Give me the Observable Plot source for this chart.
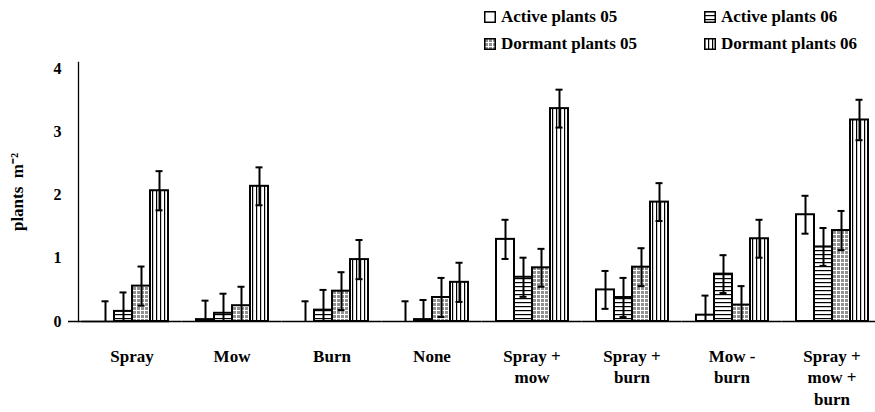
<!DOCTYPE html>
<html><head><meta charset="utf-8">
<script src="https://cdn.jsdelivr.net/npm/d3@7"></script>
<script src="https://cdn.jsdelivr.net/npm/@observablehq/plot@0.6"></script>
<style>
html,body{margin:0;padding:0;background:#fff;overflow:hidden;font-family:"Liberation Serif","Times New Roman",serif;}
#legend{position:relative;height:58px;width:875px;}
.item{position:absolute;font-weight:bold;font-size:17px;display:flex;align-items:center;white-space:nowrap;color:#000;line-height:1}
.item svg{margin-right:5px}
</style></head><body>
<svg width="0" height="0" style="position:absolute">
<defs>
<pattern id="p-white" width="4" height="4" patternUnits="userSpaceOnUse"><rect width="4" height="4" fill="#fff"/></pattern>
<pattern id="p-h" width="6" height="4" patternUnits="userSpaceOnUse"><rect width="6" height="4" fill="#fff"/><rect x="0" y="0" width="6" height="1.2" fill="#000"/></pattern>
<pattern id="p-grid" width="4" height="4" patternUnits="userSpaceOnUse"><rect width="4" height="4" fill="#909090"/><rect x="0" y="0" width="4" height="1" fill="#fff"/><rect x="0" y="0" width="1" height="4" fill="#fff"/></pattern>
<pattern id="p-v" width="4" height="6" patternUnits="userSpaceOnUse"><rect width="4" height="6" fill="#fff"/><rect x="0" y="0" width="1.2" height="6" fill="#000"/></pattern>
</defs>
</svg>
<div id="legend"></div>
<div id="chart"></div>
<script>
// ---- data ----
const groups = ["Spray", "Mow", "Burn", "None", "Spray +\nmow", "Spray +\nburn", "Mow -\nburn", "Spray +\nmow +\nburn"];
const series = ["Active plants 05", "Active plants 06", "Dormant plants 05", "Dormant plants 06"];
const active05  = [0.00, 0.03, 0.00, 0.00, 1.30, 0.50, 0.10, 1.69];
const active06  = [0.16, 0.13, 0.18, 0.03, 0.70, 0.38, 0.75, 1.18];
const dormant05 = [0.56, 0.25, 0.48, 0.38, 0.85, 0.86, 0.26, 1.44];
const dormant06 = [2.07, 2.14, 0.98, 0.62, 3.37, 1.89, 1.31, 3.19];
const active05Err  = [0.32, 0.30, 0.32, 0.32, 0.31, 0.30, 0.31, 0.30];
const active06Err  = [0.30, 0.31, 0.32, 0.31, 0.31, 0.31, 0.30, 0.30];
const dormant05Err = [0.31, 0.30, 0.30, 0.31, 0.30, 0.30, 0.30, 0.31];
const dormant06Err = [0.31, 0.30, 0.31, 0.31, 0.30, 0.30, 0.30, 0.32];
const yTicks = [0, 1, 2, 3, 4];
const yLabel = "plants  m\u207B\u00B2";

const fills = ["url(#p-white)", "url(#p-h)", "url(#p-grid)", "url(#p-v)"];
const valueSets = [active05, active06, dormant05, dormant06];
const errSets = [active05Err, active06Err, dormant05Err, dormant06Err];

const rows = [];
groups.forEach((g, i) => series.forEach((s, j) => {
  rows.push({group: g, series: s, value: valueSets[j][i], err: errSets[j][i]});
}));
const lowCaps = rows.filter(d => d.value - d.err > 0.02);

// ---- legend ----
const legend = document.getElementById("legend");
const legendPos = [[484, 8], [704, 8], [484, 35], [704, 35]];
series.forEach((s, j) => {
  const div = document.createElement("div");
  div.className = "item";
  div.style.left = legendPos[j][0] + "px";
  div.style.top = legendPos[j][1] + "px";
  div.innerHTML = `<svg width="12" height="12"><rect x="0.75" y="0.75" width="10.5" height="10.5" fill="${fills[j]}" stroke="#000" stroke-width="1.5"/></svg><span>${s}</span>`;
  legend.appendChild(div);
});

// ---- chart ----
const chart = Plot.plot({
  width: 875,
  height: 354,
  marginLeft: 94,
  marginRight: 6,
  marginTop: 4,
  marginBottom: 91,
  style: {fontFamily: "'Liberation Serif','Times New Roman',serif", background: "#fff", color: "#000"},
  fx: {domain: groups, paddingInner: 0.25, paddingOuter: 0},
  x: {domain: series, padding: 0, axis: null},
  y: {domain: [0, 4.1]},
  color: {domain: series, range: fills},
  marks: [
    Plot.barY(rows, {fx: "group", x: "series", y: "value", fill: "series", stroke: "#000", strokeWidth: 2}),
    Plot.ruleX(rows, {fx: "group", x: "series", y1: d => Math.max(0, d.value - d.err), y2: d => d.value + d.err, stroke: "#000", strokeWidth: 2}),
    Plot.tickY(rows, {fx: "group", x: "series", y: d => d.value + d.err, stroke: "#000", strokeWidth: 2, insetLeft: 5.5, insetRight: 5.5}),
    Plot.tickY(lowCaps, {fx: "group", x: "series", y: d => d.value - d.err, stroke: "#000", strokeWidth: 2, insetLeft: 5.5, insetRight: 5.5}),
    Plot.ruleY([0], {stroke: "#000", strokeWidth: 1.5, insetLeft: -12.5, insetRight: -12.5}),
    Plot.ruleY([0], {stroke: "#000", strokeWidth: 1.5, insetLeft: -26, facetAnchor: "left"}),
    Plot.frame({anchor: "left", facetAnchor: "left", insetLeft: -16, stroke: "#000", strokeWidth: 1.3}),
    Plot.axisY({ticks: yTicks, tickFormat: d => String(d), tickSize: 0, tickPadding: 33, fontSize: 16, fontWeight: "bold", label: yLabel, labelArrow: "none", labelAnchor: "center", labelOffset: 84}),
    Plot.axisFx({anchor: "bottom", tickSize: 0, tickPadding: 25, fontSize: 17, fontWeight: "bold", lineHeight: 1.26, label: null})
  ]
});
// enlarge y-axis label font slightly
chart.querySelectorAll("g[aria-label='y-axis label'] text").forEach(t => t.setAttribute("font-size", "17"));
document.getElementById("chart").appendChild(chart);
</script>
</body></html>
